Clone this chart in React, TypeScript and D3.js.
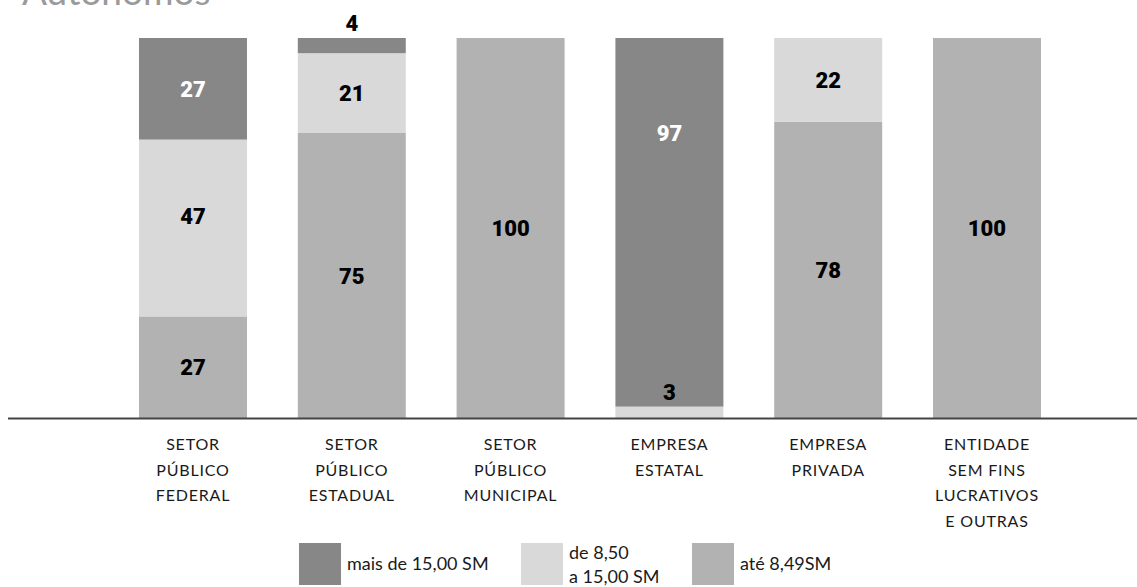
import React from "react";
import * as d3 from "d3";

const title = "Autônomos";
const categories = [
  ["SETOR", "PÚBLICO", "FEDERAL"],
  ["SETOR", "PÚBLICO", "ESTADUAL"],
  ["SETOR", "PÚBLICO", "MUNICIPAL"],
  ["EMPRESA", "ESTATAL"],
  ["EMPRESA", "PRIVADA"],
  ["ENTIDADE", "SEM FINS", "LUCRATIVOS", "E OUTRAS"],
];
const seriesKeys = ["ate", "de", "mais"];
const seriesNames = ["até 8,49SM", "de 8,50\na 15,00 SM", "mais de 15,00 SM"];
const ate = [27, 75, 100, 0, 78, 100];
const de = [47, 21, 0, 3, 22, 0];
const mais = [27, 4, 0, 97, 0, 0];

const W = 1137;
const H = 587;
const colors: Record<string, string> = { ate: "#b2b2b2", de: "#d9d9d9", mais: "#878787" };
// manual label nudges (layout only)
const labelNudge: Record<string, number> = { "de-0": -12, "mais-3": -89 };

export default function App() {
  const rows = categories.map((c, i) => ({ idx: i, ate: ate[i], de: de[i], mais: mais[i] }));
  const stack = d3.stack<any>().keys(seriesKeys).offset(d3.stackOffsetExpand);
  const stacked = stack(rows);

  const x = d3
    .scaleBand<number>()
    .domain(categories.map((_, i) => i))
    .range([139, 1041])
    .paddingInner(0.32)
    .paddingOuter(0);
  const y = d3.scaleLinear().domain([0, 1]).range([418, 38]);

  const labelFont = "Roboto, 'DejaVu Sans', sans-serif";
  const textFont = "Lato, 'Open Sans', sans-serif";

  const legendItems = [
    { key: "mais", name: seriesNames[2], x: 299 },
    { key: "de", name: seriesNames[1], x: 521 },
    { key: "ate", name: seriesNames[0], x: 692 },
  ];

  return (
    <svg
      width={W}
      height={H}
      style={{ position: "absolute", left: 0, top: 0, display: "block", background: "#fff" }}
    >
      <text x={22} y={5} fontFamily={textFont} fontSize={37} fill="#9a9a9a">
        {title}
      </text>

      {stacked.map((s) => (
        <g key={s.key}>
          {s.map((d, i) => {
            const h = y(d[0]) - y(d[1]);
            if (h <= 0) return null;
            return (
              <rect
                key={i}
                x={x(i)}
                y={y(d[1])}
                width={x.bandwidth()}
                height={h}
                fill={colors[s.key]}
              />
            );
          })}
        </g>
      ))}

      {stacked.map((s) => (
        <g key={"l" + s.key}>
          {s.map((d, i) => {
            const h = y(d[0]) - y(d[1]);
            if (h <= 0) return null;
            const v = (d.data as any)[s.key];
            const small = h < 25;
            let cy = small ? y(d[1]) - 15 : (y(d[0]) + y(d[1])) / 2;
            cy += labelNudge[s.key + "-" + i] || 0;
            const fill = !small && s.key === "mais" ? "#ffffff" : "#000000";
            return (
              <text
                key={i}
                x={(x(i) as number) + x.bandwidth() / 2}
                y={cy + 8}
                textAnchor="middle"
                fontFamily={labelFont}
                fontWeight={900}
                fontSize={22}
                fill={fill}
              >
                {v}
              </text>
            );
          })}
        </g>
      ))}

      <line x1={8} x2={W} y1={418.5} y2={418.5} stroke="#444" strokeWidth={2} />

      {categories.map((lines, i) => (
        <text
          key={i}
          x={(x(i) as number) + x.bandwidth() / 2}
          y={450}
          textAnchor="middle"
          fontFamily={textFont}
          fontSize={16}
          letterSpacing={0.8}
          fill="#1a1a1a"
        >
          {lines.map((ln, j) => (
            <tspan key={j} x={(x(i) as number) + x.bandwidth() / 2} dy={j === 0 ? 0 : 25.5}>
              {ln}
            </tspan>
          ))}
        </text>
      ))}

      {legendItems.map((it) => {
        const lines = it.name.split("\n");
        return (
          <g key={it.key}>
            <rect x={it.x} y={543} width={42} height={42} fill={colors[it.key]} />
            <text fontFamily={textFont} fontSize={18} fill="#1a1a1a">
              {lines.map((ln, j) => (
                <tspan
                  key={j}
                  x={it.x + 48}
                  y={lines.length === 1 ? 570 : 559 + j * 24}
                >
                  {ln}
                </tspan>
              ))}
            </text>
          </g>
        );
      })}
    </svg>
  );
}
